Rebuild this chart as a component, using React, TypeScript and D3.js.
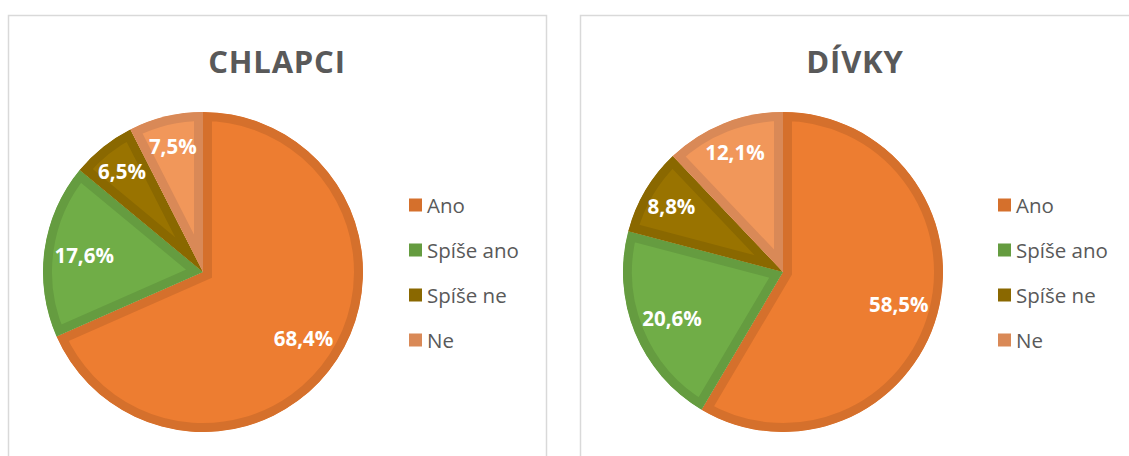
import React from "react";
import * as d3 from "d3";

const categories = ["Ano", "Spíše ano", "Spíše ne", "Ne"];
const boysValues = [68.4, 17.6, 6.5, 7.5];
const girlsValues = [58.5, 20.6, 8.8, 12.1];
const titles = ["CHLAPCI", "DÍVKY"];
const fills = ["#ED7D31", "#70AD47", "#997300", "#F1975A"];
const strokes = ["#D5702C", "#659C40", "#8A6800", "#D98957"];

const W = 1129;
const H = 456;

type PanelProps = {
  id: string;
  x: number;
  width: number;
  title: string;
  values: number[];
  pieCx: number;
  legendX: number;
};

const fmt = (v: number) => v.toFixed(1).replace(".", ",") + "%";

function Panel({ id, x, width, title, values, pieCx, legendX }: PanelProps) {
  const R = 160;
  const cy = 272;
  const pie = d3.pie<number>().sort(null).value((d) => d);
  const arcs = pie(values);
  const arc = d3.arc<d3.PieArcDatum<number>>().innerRadius(0).outerRadius(R);
  const legendY = d3.scalePoint<string>().domain(categories).range([205, 340]);
  return (
    <g>
      <rect x={x + 0.5} y={15.5} width={width} height={H + 20} fill="#fff" stroke="#d9d9d9" strokeWidth={1.5} />
      <text
        x={x + width / 2}
        y={73}
        textAnchor="middle"
        fontFamily="'Open Sans', sans-serif"
        fontWeight={700}
        fontSize={31}
        letterSpacing={0.8}
        fill="#595959"
      >
        {title}
      </text>
      <g transform={`translate(${pieCx},${cy})`}>
        <defs>
          {arcs.map((a, i) => (
            <clipPath id={`${id}-clip-${i}`} key={i}>
              <path d={arc(a) || ""} />
            </clipPath>
          ))}
        </defs>
        {arcs.map((a, i) => (
          <path
            key={i}
            d={arc(a) || ""}
            fill={fills[i]}
            stroke={strokes[i]}
            strokeWidth={18}
            strokeLinejoin="miter"
            clipPath={`url(#${id}-clip-${i})`}
          />
        ))}
        {arcs.map((a, i) => {
          const frac = (a.endAngle - a.startAngle) / (2 * Math.PI);
          const k = frac > 0.15 ? 0.75 : 0.81;
          const mid = (a.startAngle + a.endAngle) / 2;
          const lx = Math.sin(mid) * R * k;
          const ly = -Math.cos(mid) * R * k;
          return (
            <text
              key={i}
              x={lx}
              y={ly}
              textAnchor="middle"
              dominantBaseline="central"
              fontFamily="'Open Sans', sans-serif"
              fontWeight={700}
              fontSize={20.5}
              fill="#fff"
            >
              {fmt(values[i])}
            </text>
          );
        })}
      </g>
      {categories.map((c, i) => (
        <g key={c} transform={`translate(${legendX},${legendY(c)})`}>
          <rect x={0} y={-6.5} width={13} height={13} fill={strokes[i]} />
          <text
            x={18}
            y={0}
            dominantBaseline="central"
            fontFamily="'Open Sans', sans-serif"
            fontSize={20.5}
            fill="#595959"
          >
            {c}
          </text>
        </g>
      ))}
    </g>
  );
}

export default function App() {
  return (
    <svg
      width={W}
      height={H}
      style={{ position: "absolute", left: 0, top: 0, display: "block", background: "#fff" }}
    >
      <rect width={W} height={H} fill="#fff" />
      <Panel id="boys" x={8} width={538} title={titles[0]} values={boysValues} pieCx={203} legendX={409} />
      <Panel id="girls" x={580} width={550} title={titles[1]} values={girlsValues} pieCx={783} legendX={998} />
    </svg>
  );
}
